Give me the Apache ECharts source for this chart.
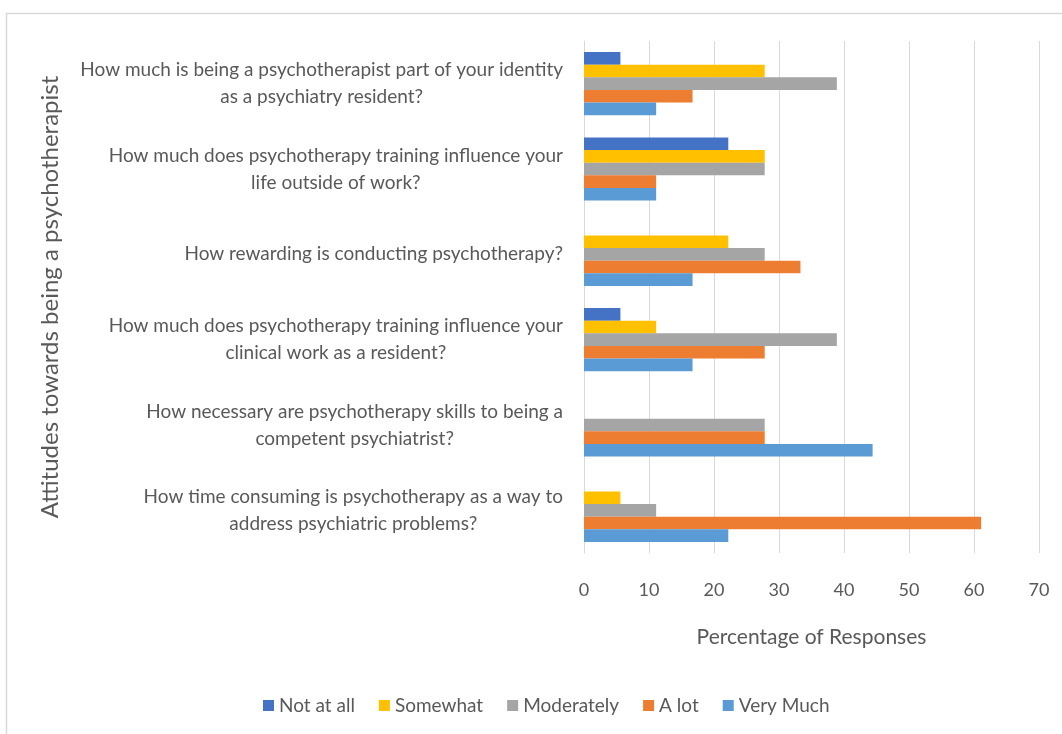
<!DOCTYPE html>
<html>
<head>
<meta charset="utf-8">
<script src="https://cdn.jsdelivr.net/npm/echarts@6/dist/echarts.min.js"></script>
<style>
html,body{margin:0;padding:0;background:#fff;}
#chart{width:1062px;height:734px;}
</style>
</head>
<body>
<div id="chart"></div>
<script>
const categories = [
  "How much is being a psychotherapist part of your identity\nas a psychiatry resident?",
  "How much does psychotherapy training influence your\nlife outside of work?",
  "How rewarding is conducting psychotherapy?",
  "How much does psychotherapy training influence your\nclinical work as a resident?",
  "How necessary are psychotherapy skills to being a\ncompetent psychiatrist?",
  "How time consuming is psychotherapy as a way to\naddress psychiatric problems?"
];
const seriesNames = ["Not at all", "Somewhat", "Moderately", "A lot", "Very Much"];
const notAtAll   = [5.6, 22.2, 0, 5.6, 0, 0];
const somewhat   = [27.8, 27.8, 22.2, 11.1, 0, 5.6];
const moderately = [38.9, 27.8, 27.8, 38.9, 27.8, 11.1];
const aLot       = [16.7, 11.1, 33.3, 27.8, 27.8, 61.1];
const veryMuch   = [11.1, 11.1, 16.7, 16.7, 44.4, 22.2];
const xTicks = [0, 10, 20, 30, 40, 50, 60, 70];

const colors = ["#4472C4", "#FFC000", "#A5A5A5", "#ED7D31", "#5B9BD5"];
const values = [notAtAll, somewhat, moderately, aLot, veryMuch];
const FONT = "Lato";
const TXT = "#595959";

const chart = echarts.init(document.getElementById('chart'));
chart.setOption({
  animation: false,
  textStyle: {fontFamily: FONT},
  graphic: [{
    type: 'rect', shape: {x: 6.5, y: 13.5, width: 1100, height: 800},
    style: {fill: 'none', stroke: '#D9D9D9', lineWidth: 1.5}, silent: true, z: -1
  }],
  legend: {
    data: seriesNames,
    left: 258, top: 691,
    itemWidth: 11, itemHeight: 11, itemGap: 24,
    icon: 'rect',
    textStyle: {color: TXT, fontSize: 19, fontFamily: FONT}
  },
  grid: {left: 584, right: 23, top: 41, bottom: 181, containLabel: false},
  xAxis: {
    type: 'value', min: xTicks[0], max: xTicks[xTicks.length - 1], interval: 10,
    name: 'Percentage of Responses', nameLocation: 'middle', nameGap: 74,
    nameTextStyle: {color: TXT, fontSize: 21, fontFamily: FONT},
    axisLine: {show: false}, axisTick: {show: false},
    axisLabel: {color: TXT, fontSize: 18, margin: 28, fontFamily: FONT},
    splitLine: {show: true, lineStyle: {color: '#D9D9D9', width: 1}}
  },
  yAxis: {
    type: 'category', data: categories, inverse: true,
    name: 'Attitudes towards being a psychotherapist', nameLocation: 'middle', nameGap: 522,
    nameRotate: 90,
    nameTextStyle: {color: TXT, fontSize: 24, fontFamily: FONT},
    axisLine: {show: true, lineStyle: {color: '#D9D9D9'}}, axisTick: {show: false},
    axisLabel: {
      color: TXT, fontSize: 19, margin: 21, lineHeight: 27, fontFamily: FONT,
      formatter: function (v) { return v.split('\n').map(s => '{c|' + s + '}').join('\n'); },
      rich: {c: {align: 'center', color: TXT, fontSize: 19, lineHeight: 27, fontFamily: FONT}}
    }
  },
  series: seriesNames.map((n, i) => ({
    name: n, type: 'bar', data: values[i],
    itemStyle: {color: colors[i]},
    barGap: '0%', barCategoryGap: '26%'
  }))
});
</script>
</body>
</html>
